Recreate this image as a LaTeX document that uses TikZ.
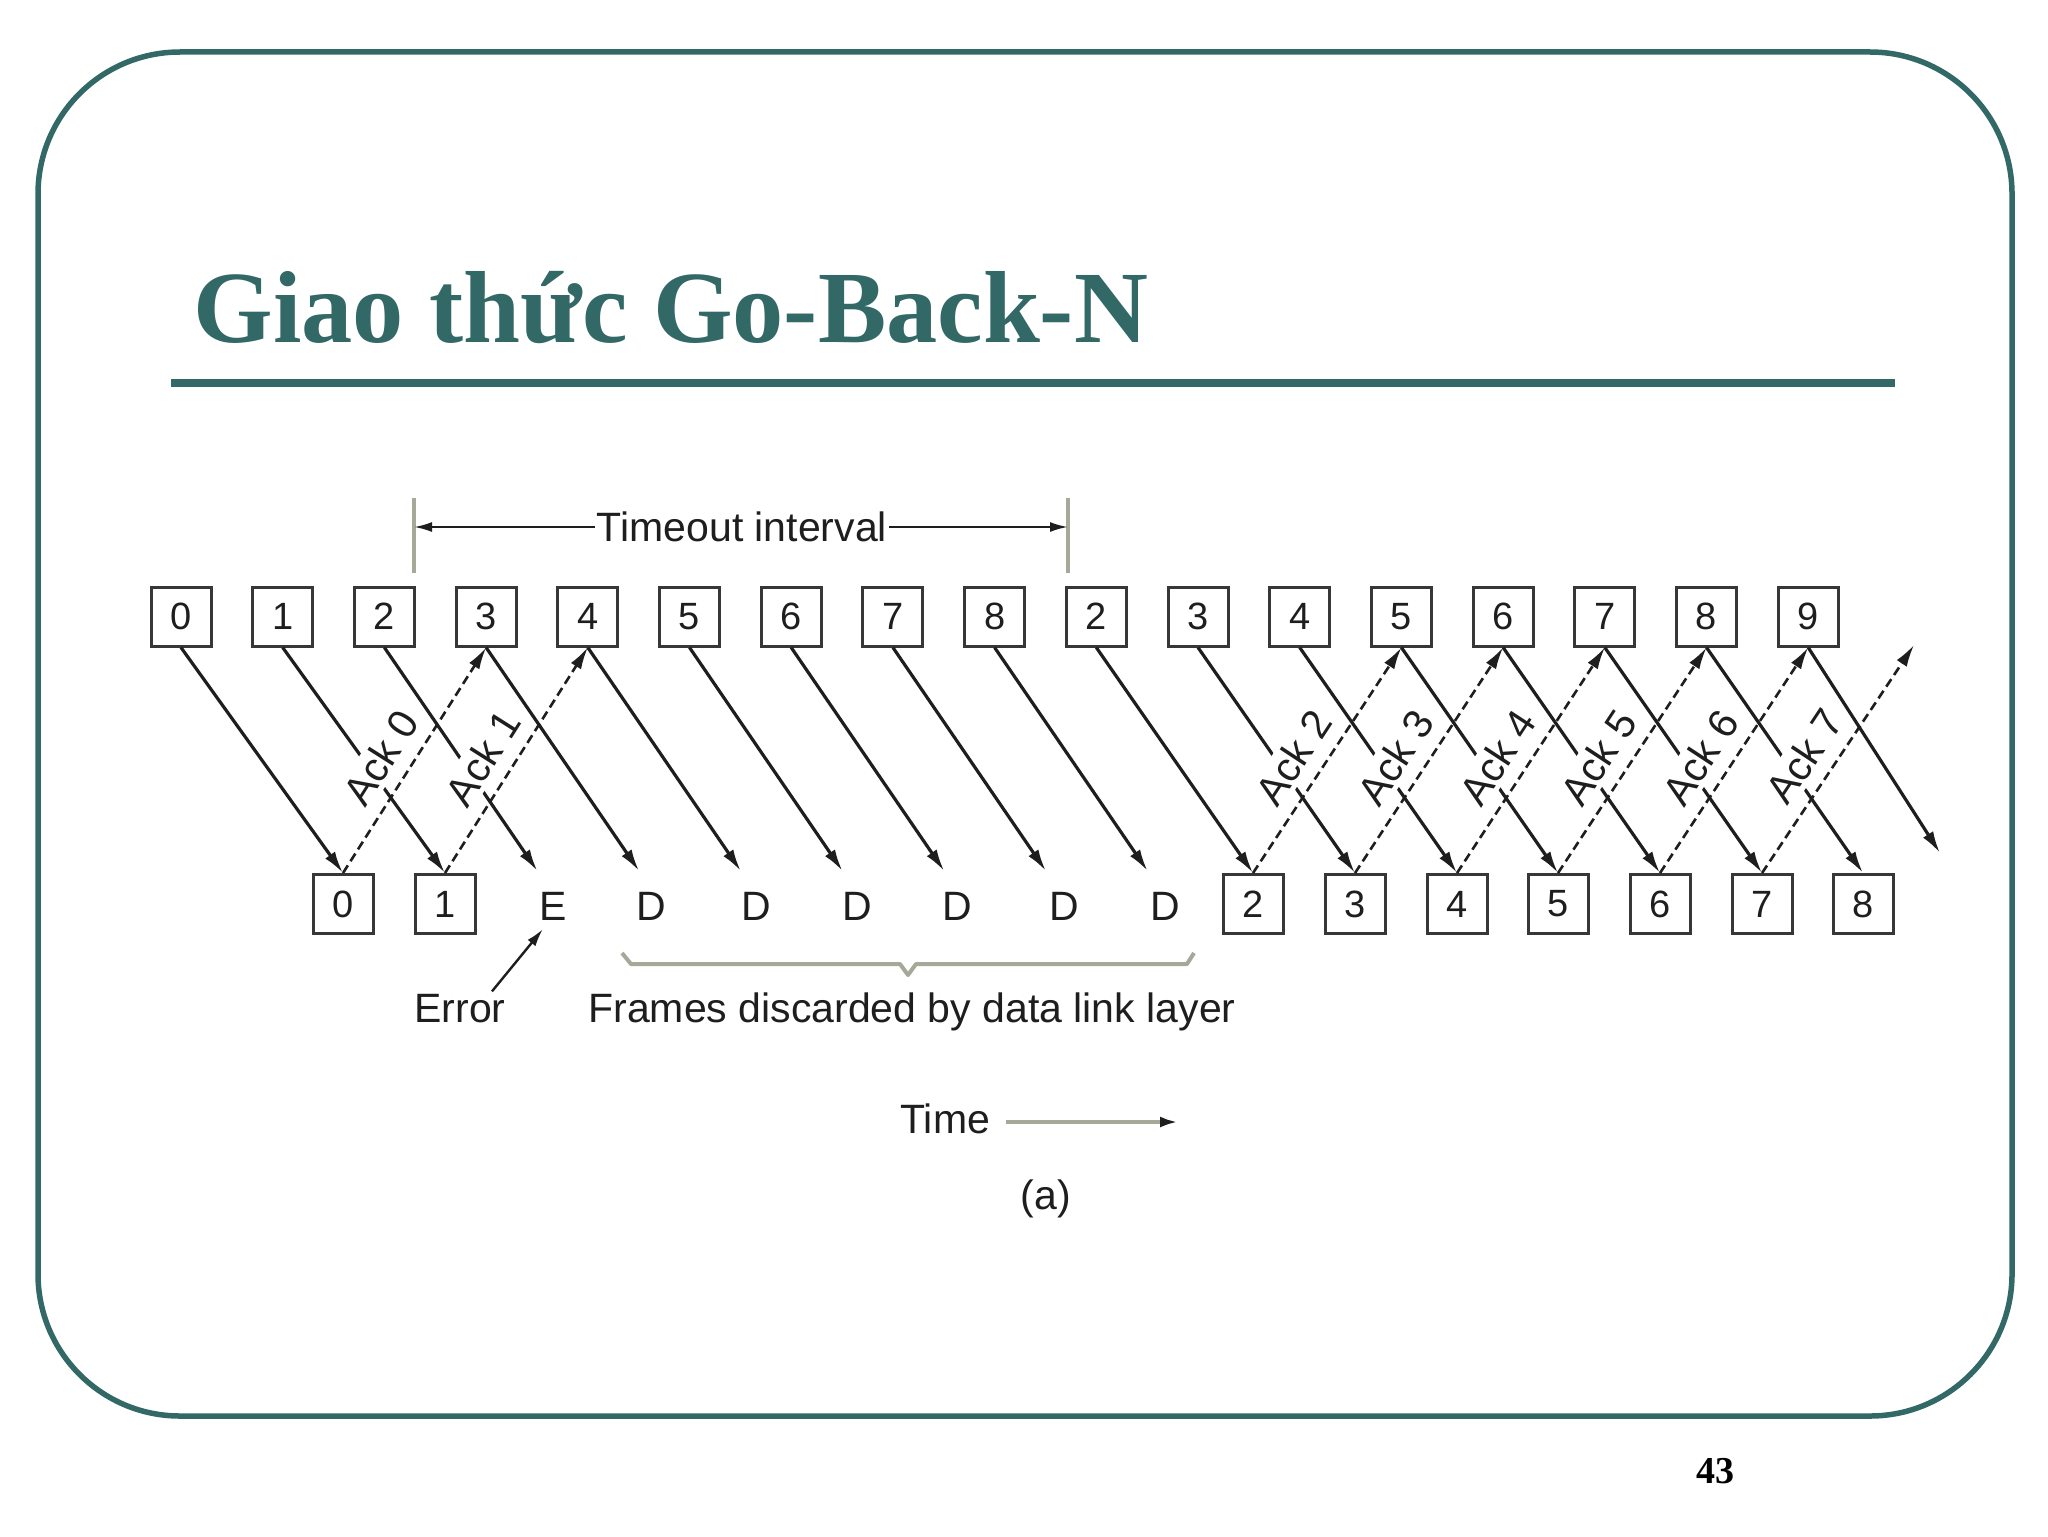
\documentclass[tikz,border=0pt]{standalone}
\usepackage{fontspec}
\setmainfont{Liberation Serif}
\newfontfamily\diag{Liberation Sans}
\usetikzlibrary{arrows.meta}
\definecolor{slideteal}{RGB}{50,104,102}
\definecolor{txt}{RGB}{30,30,30}
\definecolor{boxgray}{RGB}{55,55,55}
\definecolor{lightline}{RGB}{168,168,152}
\begin{document}
\begin{tikzpicture}[x=0.5pt,y=-0.5pt,
  fbox/.style={draw=boxgray, line width=1.5pt, minimum width=30pt, minimum height=29.5pt,
    inner sep=0pt, font=\diag\fontsize{19}{20}\selectfont, text=txt},
  lbl/.style={font=\diag\fontsize{20.5}{22}\selectfont, text=txt},
  letter/.style={lbl, inner sep=0pt, anchor=base},
  data/.style={draw=txt, line width=1.6pt, -{Latex[length=11pt,width=6pt]}},
  ack/.style={draw=txt, line width=1.3pt, dash pattern=on 4.5pt off 2.5pt,
    -{Latex[length=11pt,width=6pt]}},
  acklbl/.style={lbl, sloped, above=4.7pt, fill=white, inner sep=2pt, pos=0.44},
  bar/.style={draw=lightline, line width=2pt},
  tarrow/.style={draw=txt, line width=1.1pt, -{Latex[length=9pt,width=5pt]}},
  garrow/.style={draw=lightline, line width=2pt, -{Latex[length=9pt,width=5.5pt,color=txt]}}
]
\useasboundingbox (0,0) rectangle (2048,1536);

% slide frame
\draw[slideteal, line width=2.75pt, rounded corners=71pt] (38,52) rectangle (2012,1416);
\node[anchor=base west, inner sep=0pt, text=slideteal,
  font=\fontsize{51.2}{60}\selectfont\bfseries] (title) at (193,342) {Giao thức Go-Back-N};
\draw[slideteal, line width=4pt] (171,383) -- (1895,383);
\node[anchor=base, inner sep=0pt, font=\fontsize{19}{22}\selectfont\bfseries] (pg) at (1715,1483) {43};

% sender frames
\foreach \i/\t in {0/0,1/1,2/2,3/3,4/4,5/5,6/6,7/7,8/8,9/2,10/3,11/4,12/5,13/6,14/7,15/8,16/9}
  \node[fbox] (t\i) at ({181+101.7*\i},616.5) {\t};

% receiver
\node[fbox] (b0) at (343,904) {0};
\node[fbox] (b1) at (445,904) {1};
\node[letter] (b2) at (553,920) {E};
\foreach \i/\x in {3/651.5,4/756,5/857,6/957,7/1064,8/1165}
  \node[letter] (b\i) at (\x,920) {D};
\foreach \i/\x/\t in {9/1253/2,10/1355/3,11/1457/4,12/1558/5,13/1660/6,14/1762/7,15/1863/8}
  \node[fbox] (b\i) at (\x,904) {\t};

% arrival points above E / D
\foreach \i in {2,...,8}
  \coordinate (r\i) at ({181+101.7*\i+153},871);
\coordinate (r16) at (1940,853);
\coordinate (a7) at (1914,645);

% data frames
\foreach \i in {0,1,9,10,11,12,13,14,15}
  \draw[data] (t\i.south) -- (b\i.north);
\foreach \i in {2,...,8}
  \draw[data] (t\i.south) -- (r\i);
\draw[data] (t16.south) -- (r16);

% acknowledgements
\draw[ack] (b0.north) -- node[acklbl] {Ack 0} (t3.south);
\draw[ack] (b1.north) -- node[acklbl] {Ack 1} (t4.south);
\draw[ack] (b9.north) -- node[acklbl] {Ack 2} (t12.south);
\draw[ack] (b10.north) -- node[acklbl] {Ack 3} (t13.south);
\draw[ack] (b11.north) -- node[acklbl] {Ack 4} (t14.south);
\draw[ack] (b12.north) -- node[acklbl] {Ack 5} (t15.south);
\draw[ack] (b13.north) -- node[acklbl] {Ack 6} (t16.south);
\draw[ack] (b14.north) -- node[acklbl] {Ack 7} (a7);

% timeout interval
\draw[bar] (414,498) -- (414,573);
\draw[bar] (1068,498) -- (1068,573);
\coordinate (tbl) at (414,527);
\coordinate (tbr) at (1068,527);
\node[lbl, inner sep=1pt] (tl) at (742,527) {Timeout interval};
\draw[tarrow] (tl.west) -- (tbl);
\draw[tarrow] (tl.east) -- (tbr);

% error
\node[letter] (err) at (460,1022) {Error};
\coordinate (etip) at (543,929);
\draw[tarrow, line width=1.2pt] ([xshift=-7pt,yshift=1pt]err.north east) -- (etip);

% discarded brace
\draw[lightline, line width=2pt, line join=round]
  (622,953) -- (631,964) -- (900,964) -- (908,975) -- (916,964) -- (1187,964) -- (1194,953);
\node[letter] (fd) at (912,1022) {Frames discarded by data link layer};

% time
\node[letter, anchor=base west] (time) at (900,1133) {Time};
\coordinate (timeend) at (1178,1122);
\draw[garrow] (1006,1122) -- (timeend);
\node[letter] (cap) at (1046,1209) {(a)};
\end{tikzpicture}
\end{document}
